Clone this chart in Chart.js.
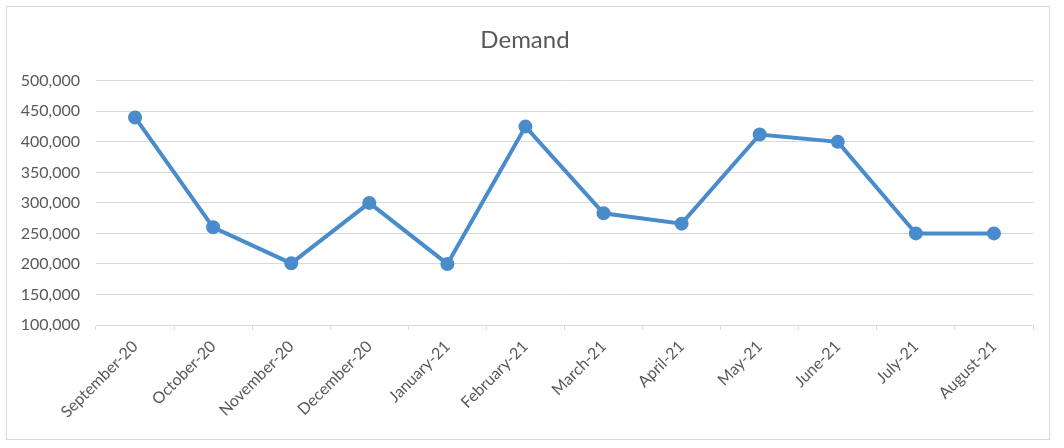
<!DOCTYPE html>
<html lang="en">
<head>
    <meta charset="utf-8">
    <title>Demand</title>
    <style>
        html, body { margin: 0; padding: 0; background: #fff; }
        .chart-box {
            position: absolute;
            left: 6px; top: 6px;
            width: 1042px; height: 432px;
            border: 1px solid #d9d9d9;
        }
    </style>
    <script src="https://cdn.jsdelivr.net/npm/chart.js"></script>
</head>
<body>
<div class="chart-box">
    <canvas id="demandChart" width="1042" height="432"></canvas>
</div>
<script>
    // data
    const months = ['September-20', 'October-20', 'November-20', 'December-20', 'January-21', 'February-21',
                    'March-21', 'April-21', 'May-21', 'June-21', 'July-21', 'August-21'];
    const demand = [440000, 260000, 201000, 300000, 200000, 425000, 283000, 266000, 412000, 400000, 250000, 250000];
    const yMin = 100000;
    const yMax = 500000;
    const yStep = 50000;

    const textColor = '#595959';
    const gridColor = '#d9d9d9';
    const lineColor = '#4A8CCB';

    const ctx = document.getElementById('demandChart').getContext('2d');
    const demandChart = new Chart(ctx, {
        type: 'line',
        data: {
            labels: months,
            datasets: [{
                label: 'Demand',
                data: demand,
                borderColor: lineColor,
                backgroundColor: lineColor,
                borderWidth: 4,
                pointRadius: 5,
                pointHoverRadius: 5,
                tension: 0
            }]
        },
        options: {
            responsive: false,
            animation: false,
            // left padding kept small so the y labels are not clipped
            layout: { padding: { left: 10, right: 16, top: 0, bottom: 0 } },
            plugins: {
                legend: { display: false },
                tooltip: { enabled: false },
                title: {
                    display: true,
                    text: 'Demand',
                    color: textColor,
                    font: { family: 'Lato', size: 24, weight: 'normal' },
                    padding: { top: 19, bottom: 26 }
                }
            },
            scales: {
                x: {
                    offset: true,
                    border: { display: true, color: gridColor, width: 1 },
                    grid: { drawOnChartArea: false, offset: true, color: gridColor, tickLength: 5 },
                    ticks: {
                        color: textColor,
                        font: { family: 'Lato', size: 16 },
                        maxRotation: 45,
                        minRotation: 45,
                        autoSkip: false,
                        padding: 7
                    },
                    afterFit: (scale) => { scale.height = 114; }
                },
                y: {
                    min: yMin,
                    max: yMax,
                    border: { display: false },
                    grid: { color: gridColor, lineWidth: 1, drawTicks: false },
                    ticks: {
                        stepSize: yStep,
                        color: textColor,
                        font: { family: 'Lato', size: 16 },
                        padding: 16,
                        callback: (v) => v.toLocaleString('en-US')
                    },
                    afterFit: (scale) => { scale.width = 79; }
                }
            }
        }
    });
</script>
</body>
</html>
